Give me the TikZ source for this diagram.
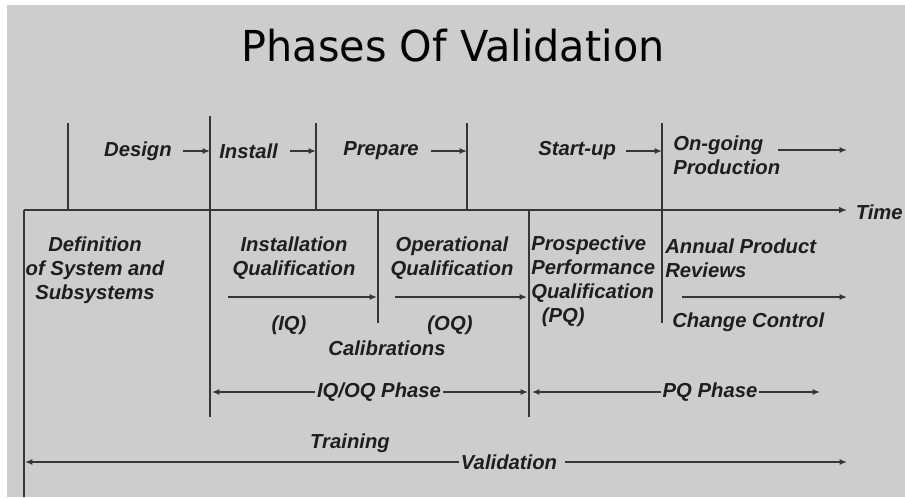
\documentclass[tikz,border=0pt]{standalone}
\usepackage{fontspec}
\usetikzlibrary{arrows.meta}
\newfontfamily\arialfam{Liberation Sans}
\newfontfamily\headfam{DejaVu Sans}
\newcommand\labfont{\fontsize{15.2}{18}\selectfont\arialfam\bfseries\itshape}
\newcommand\headfont{\fontsize{32}{36}\selectfont\headfam}
\definecolor{bggray}{HTML}{CDCDCD}
\definecolor{linegray}{HTML}{363636}
\definecolor{inkgray}{HTML}{1E1E1E}
\tikzset{
  lbl/.style={font=\labfont, text=inkgray, inner sep=0pt},
  rule/.style={draw=linegray, line width=1.5pt},
  axis/.style={draw=linegray, line width=1.9pt, -{Latex[length=6pt,width=5pt]}},
  arr/.style={draw=linegray, line width=1.3pt, -{Latex[length=5.5pt,width=4.5pt]}},
}
\begin{document}
\begin{tikzpicture}[x=0.75pt,y=-0.75pt]
\useasboundingbox (0,0) rectangle (905,497);
\fill[white] (0,0) rectangle (905,497);
\fill[bggray] (7,5) rectangle (905,497);

% title
\node (title) at (453,46) {\headfont\scalebox{0.97}[1]{Phases Of Validation}};

% ends of the vertical rules
\coordinate (v0t) at (24,210);  \coordinate (v0b) at (24,497);
\coordinate (v1t) at (68,123);  \coordinate (v1b) at (68,210);
\coordinate (v2t) at (210,116); \coordinate (v2b) at (210,417);
\coordinate (v3t) at (316,123); \coordinate (v3b) at (316,210);
\coordinate (v4t) at (378,210); \coordinate (v4b) at (378,323);
\coordinate (v5t) at (467,123); \coordinate (v5b) at (467,210);
\coordinate (v6t) at (529,210); \coordinate (v6b) at (529,417);
\coordinate (v7t) at (662,123); \coordinate (v7b) at (662,323);

\foreach \v in {v0,v1,v2,v3,v4,v5,v6,v7}
  \draw[rule] (\v t) -- (\v b);

% time axis
\coordinate (axs) at (24,210);
\coordinate (axe) at (847,210);
\draw[axis] (axs) -- (axe);
\node[lbl, anchor=east] (time) at (903,212) {Time};

% stages above the axis
\node[lbl, anchor=east] (design) at (172,151) {Design};
\node[lbl, anchor=west] (install) at (219,151) {Install};
\node[lbl, anchor=west] (prepare) at (343,151) {Prepare};
\node[lbl, anchor=west] (startup) at (538,151) {Start-up};
\node[lbl, anchor=west, align=left] (ongoing) at (673,155) {On-going\\Production};
\coordinate (ongoings) at (778,150);
\coordinate (ongoinge) at (847,150);

\draw[arr] ([xshift=8pt]design.east) -- (design.east -| v2t);
\draw[arr] ([xshift=9pt]install.east) -- (install.east -| v3t);
\draw[arr] ([xshift=9pt]prepare.east) -- (prepare.east -| v5t);
\draw[arr] ([xshift=7pt]startup.east) -- (startup.east -| v7t);
\draw[arr] (ongoings) -- (ongoinge);

% activities below the axis
\node[lbl, align=center] (defn) at (95,270) {Definition\\of System and\\Subsystems};
\node[lbl, align=center] (iqual) at (294,258) {Installation\\Qualification};
\node[lbl] (iq) at (289,325) {(IQ)};
\node[lbl, align=center] (oqual) at (452,258) {Operational\\Qualification};
\node[lbl] (oq) at (450,325) {(OQ)};
\node[lbl] (calib) at (387,348) {Calibrations};
\node[lbl, anchor=west, align=left] (pqual) at (531,281.5)
  {Prospective\\Performance\\Qualification\\\hspace*{8pt}(PQ)};
\node[lbl, anchor=west, align=left] (apr) at (665,258) {Annual Product\\Reviews};
\node[lbl, anchor=west] (change) at (672,322) {Change Control};

\coordinate (iqs) at (228,297);  \coordinate (iqe) at (377,297);
\coordinate (oqs) at (395,297);  \coordinate (oqe) at (527,297);
\coordinate (aprs) at (682,297); \coordinate (apre) at (847,297);
\draw[arr] (iqs) -- (iqe);
\draw[arr] (oqs) -- (oqe);
\draw[arr] (aprs) -- (apre);

% phase spans
\node[lbl, inner xsep=1pt] (iqoq) at (379,392) {IQ/OQ Phase};
\node[lbl, inner xsep=1pt] (pqph) at (710,392) {PQ Phase};
\coordinate (iqoql) at (212,392); \coordinate (iqoqr) at (528,392);
\coordinate (pqphl) at (532,392); \coordinate (pqphr) at (820,392);
\draw[arr] (iqoq.west) -- (iqoql);
\draw[arr] (iqoq.east) -- (iqoqr);
\draw[arr] (pqph.west) -- (pqphl);
\draw[arr] (pqph.east) -- (pqphr);

% training and validation
\node[lbl] (training) at (350,443) {Training};
\node[lbl, inner xsep=1pt] (valid) at (509,462) {Validation};
\coordinate (validl) at (25,462); \coordinate (validr) at (847,462);
\draw[arr] (valid.west) -- (validl);
\draw[arr] ([xshift=5pt]valid.east) -- (validr);
\end{tikzpicture}
\end{document}
